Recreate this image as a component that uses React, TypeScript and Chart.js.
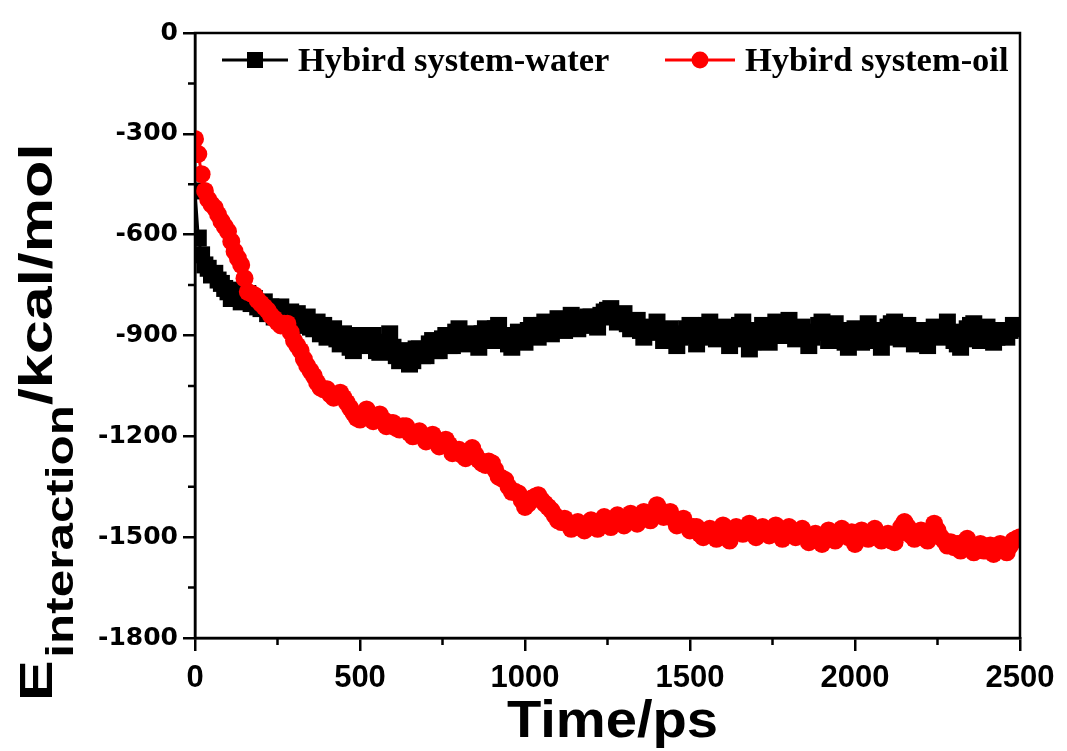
import React, { useEffect, useRef } from "react";
import { Chart, registerables } from "chart.js";

Chart.register(...registerables);

// Sampling interval of the trajectory (ps)
const timeStepPs = 10;

// Interaction energy (kcal/mol), one value every 10 ps from 0 to 2500 ps
const waterEnergy = [
  -470, -610, -660, -690, -700, -720, -715, -735, -745, -760,
  -770, -790, -765, -780, -800, -790, -775, -805, -790, -815,
  -820, -800, -835, -815, -845, -825, -815, -850, -840, -830,
  -855, -835, -870, -850, -845, -875, -880, -860, -895, -870,
  -905, -885, -880, -910, -925, -895, -900, -935, -945, -915,
  -915, -900, -930, -905, -900, -945, -950, -925, -920, -895,
  -935, -960, -975, -945, -960, -985, -975, -940, -940, -960,
  -960, -925, -915, -945, -945, -910, -900, -930, -930, -890,
  -880, -910, -925, -900, -895, -920, -935, -895, -880, -915,
  -915, -880, -870, -905, -905, -925, -935, -900, -890, -915,
  -920, -885, -870, -900, -905, -870, -860, -890, -895, -865,
  -850, -880, -885, -855, -840, -870, -880, -850, -860, -845,
  -845, -870, -875, -840, -830, -825, -820, -845, -860, -840,
  -835, -865, -880, -865, -855, -885, -905, -890, -875, -880,
  -860, -890, -915, -895, -880, -910, -930, -905, -895, -880,
  -870, -900, -925, -905, -885, -870, -860, -895, -910, -890,
  -875, -905, -930, -910, -895, -870, -860, -905, -940, -920,
  -905, -885, -870, -900, -920, -890, -860, -880, -900, -875,
  -855, -885, -910, -890, -875, -905, -930, -905, -890, -870,
  -860, -890, -915, -890, -865, -885, -905, -920, -935, -905,
  -880, -900, -920, -890, -865, -885, -900, -915, -935, -905,
  -875, -865, -860, -890, -910, -885, -870, -895, -925, -905,
  -885, -910, -930, -900, -875, -890, -905, -880, -860, -890,
  -915, -925, -935, -910, -880, -870, -865, -890, -915, -900,
  -875, -895, -920, -905, -885, -895, -905, -885, -870, -875,
  -880,
];

const oilEnergy = [
  -315, -360, -420, -470, -495, -510, -520, -540, -560, -575,
  -590, -620, -650, -670, -690, -730, -770, -775, -780, -795,
  -805, -815, -825, -840, -850, -860, -870, -865, -865, -890,
  -915, -930, -945, -970, -990, -1005, -1020, -1040, -1055, -1060,
  -1060, -1075, -1085, -1080, -1070, -1085, -1100, -1115, -1130, -1145,
  -1150, -1135, -1120, -1140, -1155, -1145, -1135, -1150, -1170, -1160,
  -1160, -1175, -1180, -1170, -1170, -1190, -1200, -1190, -1185, -1200,
  -1215, -1205, -1195, -1210, -1230, -1225, -1210, -1225, -1250, -1245,
  -1240, -1255, -1265, -1245, -1235, -1255, -1270, -1280, -1285, -1275,
  -1280, -1300, -1320, -1325, -1330, -1350, -1365, -1365, -1370, -1390,
  -1410, -1400, -1385, -1380, -1375, -1390, -1400, -1410, -1420, -1435,
  -1450, -1455, -1445, -1460, -1475, -1465, -1455, -1470, -1480, -1465,
  -1450, -1465, -1475, -1460, -1440, -1455, -1470, -1460, -1435, -1450,
  -1465, -1450, -1430, -1445, -1460, -1440, -1425, -1435, -1450, -1430,
  -1405, -1420, -1440, -1430, -1425, -1445, -1465, -1455, -1445, -1465,
  -1480, -1470, -1470, -1490, -1500, -1485, -1475, -1490, -1505, -1485,
  -1465, -1485, -1510, -1490, -1470, -1480, -1490, -1475, -1460, -1480,
  -1500, -1485, -1470, -1480, -1495, -1480, -1465, -1485, -1505, -1490,
  -1470, -1485, -1500, -1485, -1475, -1495, -1515, -1505, -1490, -1510,
  -1520, -1500, -1480, -1495, -1510, -1490, -1475, -1490, -1500, -1485,
  -1520, -1505, -1480, -1490, -1505, -1485, -1475, -1495, -1510, -1495,
  -1490, -1510, -1515, -1490, -1470, -1455, -1470, -1495, -1505, -1500,
  -1480, -1495, -1510, -1485, -1460, -1480, -1500, -1510, -1525, -1515,
  -1530, -1520, -1540, -1515, -1505, -1525, -1545, -1535, -1520, -1540,
  -1540, -1525, -1550, -1535, -1520, -1535, -1545, -1525, -1510, -1505,
  -1500,
];

const seriesNames = ["Hybird system-water", "Hybird system-oil"];
const seriesColors = ["#000000", "#ff0000"];

const timeRange = [0, 2500];
const energyRange = [-1800, 0];
const timeMajorStep = 500;
const timeMinorTicks = [250, 750, 1250, 1750, 2250];
const energyMajorStep = 300;
const energyMinorTicks = [-150, -450, -750, -1050, -1350, -1650];

const xTitle = "Time/ps";
const yTitleMain = "E";
const yTitleSub = "interaction";
const yTitleUnit = "/kcal/mol";

const AXIS_W = 2.5;

const toPoints = (vals: number[]) =>
  vals.map((v, i) => ({ x: i * timeStepPs, y: v }));

// Box frame around the plot area plus the short minor tick marks
const framePlugin = {
  id: "frameAndMinorTicks",
  afterDatasetsDraw(chart: any) {
    const { ctx, chartArea: a, scales } = chart;
    ctx.save();
    ctx.strokeStyle = "#000";
    ctx.lineWidth = AXIS_W;
    ctx.strokeRect(a.left, a.top, a.right - a.left, a.bottom - a.top);
    ctx.beginPath();
    for (const t of timeMinorTicks) {
      const px = scales.x.getPixelForValue(t);
      ctx.moveTo(px, a.bottom);
      ctx.lineTo(px, a.bottom + 7);
    }
    for (const e of energyMinorTicks) {
      const py = scales.y.getPixelForValue(e);
      ctx.moveTo(a.left, py);
      ctx.lineTo(a.left - 7, py);
    }
    ctx.stroke();
    ctx.restore();
  },
};

// Axis titles (the y title carries a subscript)
const titlePlugin = {
  id: "axisTitles",
  afterDraw(chart: any) {
    const { ctx, chartArea: a } = chart;
    ctx.save();
    ctx.fillStyle = "#000";
    ctx.textBaseline = "alphabetic";
    ctx.textAlign = "left";

    // x title
    ctx.save();
    ctx.font = "bold 52px 'Liberation Sans', Arial, sans-serif";
    const xw = ctx.measureText(xTitle).width;
    const sx = 1.08;
    const cx = (a.left + a.right) / 2 + 5;
    ctx.translate(cx - (xw * sx) / 2, 737);
    ctx.scale(sx, 1);
    ctx.fillText(xTitle, 0, 0);
    ctx.restore();

    // y title, rotated
    ctx.save();
    ctx.translate(52, 701);
    ctx.rotate(-Math.PI / 2);
    ctx.scale(1.3, 1);
    const mainFont = "bold 47px 'Liberation Sans', Arial, sans-serif";
    const subFont = "bold 38px 'Liberation Sans', Arial, sans-serif";
    ctx.font = mainFont;
    ctx.fillText(yTitleMain, 0, 0);
    let off = ctx.measureText(yTitleMain).width + 2;
    ctx.font = subFont;
    ctx.fillText(yTitleSub, off, 21);
    off += ctx.measureText(yTitleSub).width;
    ctx.font = mainFont;
    ctx.fillText(yTitleUnit, off, 0);
    ctx.restore();

    ctx.restore();
  },
};

// Legend inside the plot area: line segment with marker, then the name
const legendPlugin = {
  id: "insideLegend",
  afterDraw(chart: any) {
    const { ctx } = chart;
    const items = [
      { lineFrom: 222, lineTo: 288, textX: 298 },
      { lineFrom: 665, lineTo: 735, textX: 745 },
    ];
    const y = 60;
    ctx.save();
    items.forEach((it, i) => {
      const ds = chart.data.datasets[i];
      ctx.strokeStyle = seriesColors[i];
      ctx.fillStyle = seriesColors[i];
      ctx.lineWidth = 3;
      ctx.beginPath();
      ctx.moveTo(it.lineFrom, y);
      ctx.lineTo(it.lineTo, y);
      ctx.stroke();
      const mx = (it.lineFrom + it.lineTo) / 2;
      if (ds.pointStyle === "rect") {
        ctx.fillRect(mx - 8, y - 8, 16, 16);
      } else {
        ctx.beginPath();
        ctx.arc(mx, y, 8.5, 0, Math.PI * 2);
        ctx.fill();
      }
      ctx.fillStyle = "#000";
      ctx.font = "bold 34.5px 'Liberation Serif', 'Times New Roman', serif";
      ctx.textBaseline = "alphabetic";
      ctx.textAlign = "left";
      ctx.fillText(seriesNames[i], it.textX, 71);
    });
    ctx.restore();
  },
};

export default function App() {
  const canvasRef = useRef<HTMLCanvasElement | null>(null);

  useEffect(() => {
    document.body.style.margin = "0";
    const canvas = canvasRef.current;
    if (!canvas) return;
    const chart = new Chart(canvas, {
      type: "line",
      data: {
        datasets: [
          {
            label: seriesNames[0],
            data: toPoints(waterEnergy),
            borderColor: seriesColors[0],
            backgroundColor: seriesColors[0],
            borderWidth: 3,
            pointStyle: "rect",
            pointRadius: 12,
            pointBorderWidth: 0,
            pointBackgroundColor: seriesColors[0],
            tension: 0,
            order: 2,
          },
          {
            label: seriesNames[1],
            data: toPoints(oilEnergy),
            borderColor: seriesColors[1],
            backgroundColor: seriesColors[1],
            borderWidth: 3,
            pointStyle: "circle",
            pointRadius: 9,
            pointBorderWidth: 0,
            pointBackgroundColor: seriesColors[1],
            tension: 0,
            order: 1,
          },
        ],
      },
      options: {
        responsive: false,
        animation: false,
        devicePixelRatio: 1,
        layout: { padding: { top: 33, right: 47, left: 0, bottom: 0 } },
        plugins: {
          legend: { display: false },
          tooltip: { enabled: false },
          title: { display: false },
        },
        scales: {
          x: {
            type: "linear",
            min: timeRange[0],
            max: timeRange[1],
            ticks: {
              stepSize: timeMajorStep,
              color: "#000",
              padding: 9,
              maxRotation: 0,
              callback: (v: any) => String(v),
              font: { family: "'Liberation Sans', Arial, sans-serif", size: 31, weight: "bold" },
            },
            grid: {
              drawOnChartArea: false,
              drawTicks: true,
              tickLength: 13,
              lineWidth: AXIS_W,
              color: "#000",
            },
            border: { display: true, width: AXIS_W, color: "#000" },
            afterFit: (s: any) => {
              s.height = 113;
            },
          },
          y: {
            type: "linear",
            min: energyRange[0],
            max: energyRange[1],
            ticks: {
              stepSize: energyMajorStep,
              color: "#000",
              padding: 5,
              callback: (v: any) => String(v),
              font: { family: "'DejaVu Sans', sans-serif", size: 25, weight: "bold" },
            },
            grid: {
              drawOnChartArea: false,
              drawTicks: true,
              tickLength: 12,
              lineWidth: AXIS_W,
              color: "#000",
            },
            border: { display: true, width: AXIS_W, color: "#000" },
            afterFit: (s: any) => {
              s.width = 195;
            },
          },
        },
      },
      plugins: [framePlugin, titlePlugin, legendPlugin],
    });
    return () => chart.destroy();
  }, []);

  return (
    <div style={{ width: 1067, height: 751, background: "#fff" }}>
      <canvas ref={canvasRef} width={1067} height={751} />
    </div>
  );
}
